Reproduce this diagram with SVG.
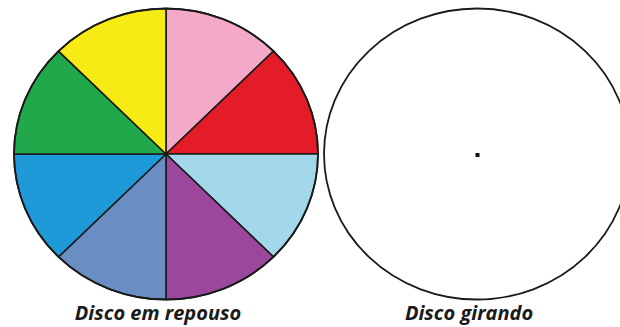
<svg xmlns="http://www.w3.org/2000/svg" width="620" height="327" viewBox="0 0 620 327">
<style>
.sec{stroke:#1a1a1a;stroke-width:1.6;stroke-linejoin:round}
.rim{fill:none;stroke:#1a1a1a;stroke-width:1.8}
.lbl{font-family:"Open Sans","Liberation Sans",sans-serif;font-weight:bold;font-style:italic;font-size:20px;fill:#1a1a1a;text-anchor:middle}
</style>
<rect width="620" height="327" fill="#ffffff"/>
<g id="disco-repouso">
<path class="sec" fill="#f4a9c8" d="M166,154 L166,8.5 A152,145.5 0 0 1 273.5,51.1 Z"/>
<path class="sec" fill="#e41c28" d="M166,154 L273.5,51.1 A152,145.5 0 0 1 318,154 Z"/>
<path class="sec" fill="#a3d8ea" d="M166,154 L318,154 A152,145.5 0 0 1 273.5,256.9 Z"/>
<path class="sec" fill="#9a479c" d="M166,154 L273.5,256.9 A152,145.5 0 0 1 166,299.5 Z"/>
<path class="sec" fill="#6a8ec4" d="M166,154 L166,299.5 A152,145.5 0 0 1 58.5,256.9 Z"/>
<path class="sec" fill="#1e9ad8" d="M166,154 L58.5,256.9 A152,145.5 0 0 1 14,154 Z"/>
<path class="sec" fill="#21a84a" d="M166,154 L14,154 A152,145.5 0 0 1 58.5,51.1 Z"/>
<path class="sec" fill="#f6eb14" d="M166,154 L58.5,51.1 A152,145.5 0 0 1 166,8.5 Z"/>
<ellipse class="rim" cx="166" cy="154" rx="152" ry="145.5"/>
<text class="lbl" x="158" y="320">Disco em repouso</text>
</g>
<g id="disco-girando">
<ellipse class="rim" cx="477" cy="154" rx="153" ry="145.5"/>
<rect x="475.5" y="153" width="4" height="4" fill="#111"/>
<text class="lbl" x="469" y="320">Disco girando</text>
</g>
<g id="connectors"/>
</svg>
